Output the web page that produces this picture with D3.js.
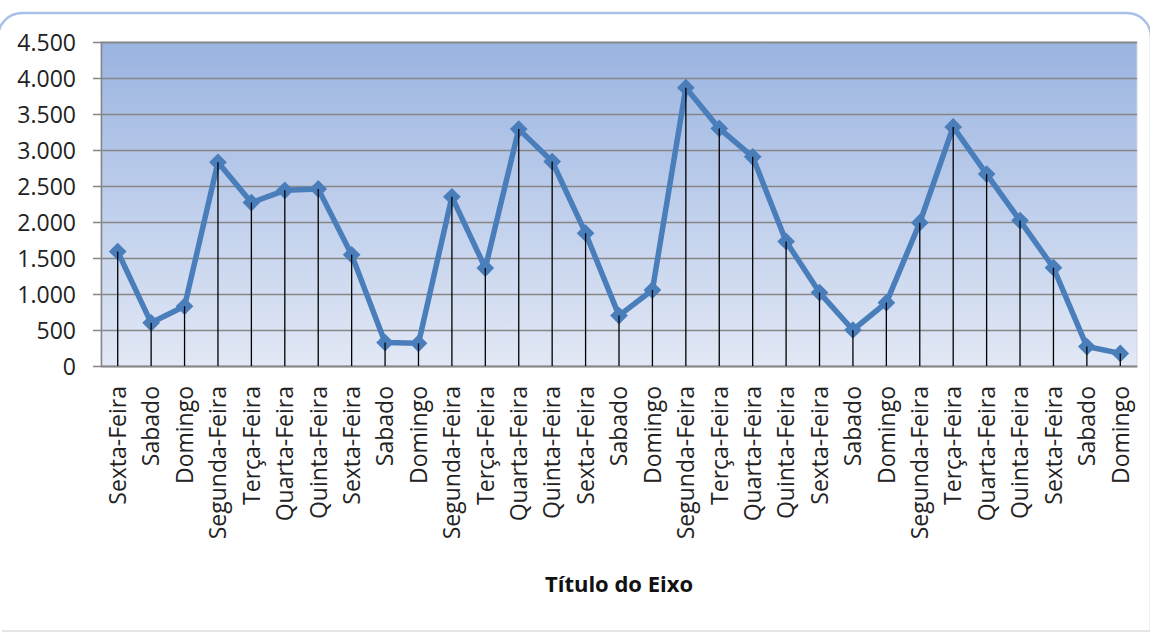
<!DOCTYPE html>
<html><head><meta charset="utf-8">
<script src="https://cdn.jsdelivr.net/npm/d3@7"></script>
<style>
html,body{margin:0;padding:0;background:#fff;}
svg{display:block;}
text{font-family:"Open Sans",sans-serif;}
</style></head>
<body>
<svg id="c" width="1150" height="632"></svg>
<script>
const categories = ["Sexta-Feira","Sabado","Domingo","Segunda-Feira","Terça-Feira","Quarta-Feira","Quinta-Feira",
  "Sexta-Feira","Sabado","Domingo","Segunda-Feira","Terça-Feira","Quarta-Feira","Quinta-Feira",
  "Sexta-Feira","Sabado","Domingo","Segunda-Feira","Terça-Feira","Quarta-Feira","Quinta-Feira",
  "Sexta-Feira","Sabado","Domingo","Segunda-Feira","Terça-Feira","Quarta-Feira","Quinta-Feira",
  "Sexta-Feira","Sabado","Domingo"];
const values = [1590,600,830,2830,2270,2440,2460,1545,325,315,2350,1360,3290,2840,1845,700,1055,3865,3300,2905,1730,1020,500,880,1990,3320,2665,2020,1365,270,175];
const yTicks = [0,500,1000,1500,2000,2500,3000,3500,4000,4500];
const axisTitle = "Título do Eixo";

const svg = d3.select("#c");
const W = 1150, H = 632;
const m = {left:101, right:1137, top:42, bottom:366};

// chart frame (only the rounded top edge is visible in the view)
svg.append("rect").attr("x",-2).attr("y",13).attr("width",1153).attr("height",700)
  .attr("rx",24).attr("fill","#fff").attr("stroke","#a9c1e9").attr("stroke-width",2.5);
svg.append("line").attr("x1",2).attr("x2",W).attr("y1",631).attr("y2",631)
  .attr("stroke","#dcdcdc").attr("stroke-width",1.5);

const defs = svg.append("defs");
const grad = defs.append("linearGradient").attr("id","bg").attr("x1",0).attr("y1",0).attr("x2",0).attr("y2",1);
grad.append("stop").attr("offset","0%").attr("stop-color","#9ab4e1");
grad.append("stop").attr("offset","100%").attr("stop-color","#e2e8f5");

const x = d3.scaleBand().domain(d3.range(categories.length)).range([m.left,m.right]);
const y = d3.scaleLinear().domain([0,4500]).range([m.bottom,m.top]);
const loc = d3.formatLocale({decimal:",",thousands:".",grouping:[3],currency:["",""]});
const fmt = loc.format(",d");

svg.append("rect").attr("x",m.left).attr("y",m.top).attr("width",m.right-m.left).attr("height",m.bottom-m.top)
  .attr("fill","url(#bg)").attr("stroke","#d0d6e2").attr("stroke-width",1);

// gridlines + y axis
const yAxis = d3.axisLeft(y).tickValues(yTicks).tickFormat(fmt).tickSize(-(m.right-m.left)).tickPadding(0);
const gy = svg.append("g").attr("transform",`translate(${m.left},0)`).call(yAxis);
gy.select(".domain").attr("stroke","#868686").attr("stroke-width",1.5);
gy.selectAll(".tick line").attr("stroke","#868686").attr("stroke-width",1.5).attr("x1",-8);
gy.selectAll(".tick text").attr("x",-25).attr("font-size","23px").attr("fill","#222")
  .attr("font-family","'Open Sans',sans-serif").attr("dy","0.35em");

// x axis
const xAxis = d3.axisBottom(x).tickFormat(i=>categories[i]).tickSize(0);
const gx = svg.append("g").attr("transform",`translate(0,${m.bottom})`).call(xAxis);
gx.select(".domain").attr("stroke","#868686").attr("stroke-width",1.5);
gx.selectAll(".tick text").attr("transform","rotate(-90)").attr("text-anchor","end")
  .attr("x",-20).attr("y",0).attr("dy","0.36em").attr("font-size","23px").attr("fill","#222")
  .attr("font-family","'Open Sans',sans-serif");

const cx = i => x(i) + x.bandwidth()/2;

// series line
const line = d3.line().x((d,i)=>cx(i)).y(d=>y(d));
svg.append("path").datum(values).attr("d",line).attr("fill","none")
  .attr("stroke","#4a7ebb").attr("stroke-width",5.5).attr("stroke-linejoin","round");

// markers
svg.append("g").selectAll("path").data(values).join("path")
  .attr("d",d3.symbol().type(d3.symbolDiamond2).size(200))
  .attr("transform",(d,i)=>`translate(${cx(i)},${y(d)})`)
  .attr("fill","#4a7ebb");

// drop lines
svg.append("g").selectAll("line").data(values).join("line")
  .attr("x1",(d,i)=>cx(i)).attr("x2",(d,i)=>cx(i))
  .attr("y1",d=>y(d)).attr("y2",y(0))
  .attr("stroke","#000").attr("stroke-width",1.3);

// axis title
svg.append("text").attr("x",(m.left+m.right)/2).attr("y",592).attr("text-anchor","middle")
  .attr("font-size","22px").attr("font-weight","bold").attr("fill","#111").text(axisTitle);
</script>
</body></html>
